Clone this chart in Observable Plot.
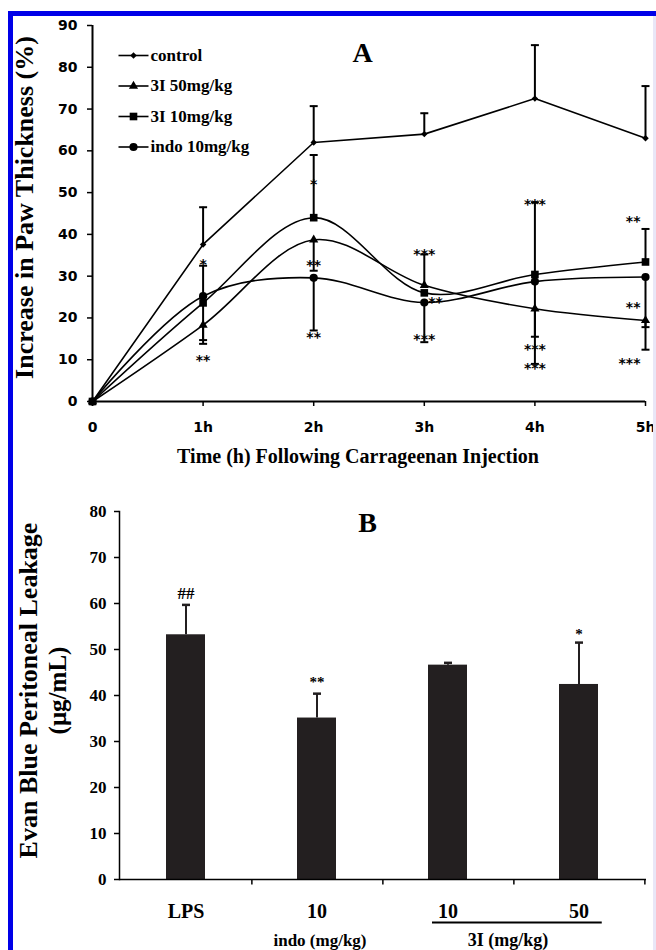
<!DOCTYPE html>
<html><head><meta charset="utf-8">
<script src="https://cdn.jsdelivr.net/npm/d3@7"></script>
<script src="https://cdn.jsdelivr.net/npm/@observablehq/plot@0.6"></script>
<style>
html,body{margin:0;padding:0;background:#fff;}
#page{position:relative;width:656px;height:950px;overflow:hidden;background:#fff;}
#a{position:absolute;left:0;top:0;}
#b{position:absolute;left:0;top:490px;}
.bt{position:absolute;left:8px;top:11px;width:648px;height:5px;background:#0000e8;}
.bl{position:absolute;left:8px;top:11px;width:5px;height:939px;background:#0000e8;}
.br{position:absolute;right:0;top:16px;width:3px;height:934px;background:#e9e7f7;}
</style></head><body>
<div id="page"><div id="a"></div><div id="b"></div><div class="bt"></div><div class="bl"></div><div class="br"></div></div>
<script>
// ---------- Panel A data ----------
const times = [0, 1, 2, 3, 4, 5];
const timeLabels = ["0", "1h", "2h", "3h", "4h", "5h"];
const yTicksA = [0, 10, 20, 30, 40, 50, 60, 70, 80, 90];
const seriesNames = ["control", "3I 50mg/kg", "3I 10mg/kg", "indo 10mg/kg"];
const control = [0, 37.6, 62.0, 64.0, 72.5, 63.0];
const i50 = [0, 18.3, 38.7, 27.8, 22.2, 19.4];
const i10 = [0, 23.6, 44.0, 26.0, 30.4, 33.4];
const indo = [0, 25.2, 29.6, 23.7, 28.7, 29.8];
// error-bar end points (each bar runs from the mean to the end value)
const controlEnds = [[], [46.5], [70.7], [69.0], [85.3], [75.5]];
const i50Ends = [[], [13.8], [31.3], [35.2], [15.5], [17.8]];
const i10Ends = [[], [14.7, 32.5], [59.0], [], [47.7], [41.3]];
const indoEnds = [[], [], [17.0], [14.2], [9.0], [12.4]];
// significance marks
const starsA = [
  {t: 1, y: 33.8, s: "*"}, {t: 1, y: 10.7, s: "**"},
  {t: 2, y: 52.9, s: "*"}, {t: 2, y: 33.5, s: "**"}, {t: 2, y: 16.3, s: "**"},
  {t: 3, y: 36.1, s: "***"}, {t: 3, y: 15.7, s: "***"},
  {t: 4, y: 48.0, s: "***"}, {t: 4, y: 13.4, s: "***"}, {t: 4, y: 8.8, s: "***"}
];
const starsARight = [{t: 3, y: 24.6, s: "**"}];
const starsALeft = [{t: 5, y: 44.0, s: "**"}, {t: 5, y: 23.5, s: "**"}, {t: 5, y: 10.0, s: "***"}];

// ---------- Panel B data ----------
const groupsB = ["LPS", "indo 10", "3I 10", "3I 50"];
const groupLabelsB = ["LPS", "10", "10", "50"];
const yTicksB = [0, 10, 20, 30, 40, 50, 60, 70, 80];
const leakage = [53.2, 35.1, 46.6, 42.4];
const leakageErrEnd = [59.7, 40.4, 47.1, 51.5];
const starsB = [{g: "LPS", y: 62.2, s: "##"}, {g: "indo 10", y: 43.3, s: "**"}, {g: "3I 50", y: 53.8, s: "*"}];

// ---------- helpers ----------
const serif = "Liberation Serif";
const sans = "DejaVu Sans";
const hcap = {draw(ctx) { ctx.moveTo(-4, 0); ctx.lineTo(4, 0); }};
const legendLine = {draw(ctx) { ctx.moveTo(-15, 0); ctx.lineTo(15, 0); }};
const vtick = {draw(ctx) { ctx.moveTo(0, 0); ctx.lineTo(0, 5); }};

const seriesDefs = [
  {name: seriesNames[0], values: control, ends: controlEnds, symbol: "diamond2", r: 2.9, curve: "linear"},
  {name: seriesNames[1], values: i50, ends: i50Ends, symbol: "triangle", r: 3.4, curve: "catmull-rom"},
  {name: seriesNames[3], values: indo, ends: indoEnds, symbol: "circle", r: 4.1, curve: "catmull-rom"},
  {name: seriesNames[2], values: i10, ends: i10Ends, symbol: "square", r: 4.3, curve: "catmull-rom"}
];
const legendOrder = [0, 1, 3, 2];

const rowsA = seriesDefs.map(s => times.map((t, i) => ({series: s.name, t, v: s.values[i]})));
const errA = seriesDefs.flatMap(s => times.flatMap((t, i) => s.ends[i].map(e => ({t, y1: s.values[i], y2: e}))));

const marksA = [
  Plot.ruleY([0], {strokeWidth: 2}),
  Plot.ruleX([0], {strokeWidth: 2}),
  Plot.axisY({ticks: yTicksA, tickSize: 5, tickPadding: 10, fontSize: 14, fontFamily: sans, fontWeight: "bold", strokeWidth: 1.5, label: null}),
  Plot.axisX({ticks: times, tickFormat: d => timeLabels[times.indexOf(d)], tickSize: 5, tickPadding: 16, fontSize: 14, fontFamily: sans, fontWeight: "bold", strokeWidth: 1.5, label: null}),
  ...seriesDefs.map((s, k) => Plot.line(rowsA[k], {x: "t", y: "v", curve: s.curve, stroke: "black", strokeWidth: 1.6})),
  Plot.ruleX(errA, {x: "t", y1: "y1", y2: "y2", stroke: "black", strokeWidth: 2}),
  Plot.dot(errA, {x: "t", y: "y2", symbol: hcap, stroke: "black", strokeWidth: 2}),
  ...seriesDefs.map((s, k) => Plot.dot(rowsA[k], {x: "t", y: "v", symbol: s.symbol, r: s.r, fill: "black", stroke: "none"})),
  Plot.text(starsA, {x: "t", y: "y", text: "s", fontSize: 14, fontFamily: sans, fontWeight: "bold", lineAnchor: "middle", dy: 4}),
  Plot.text(starsARight, {x: "t", y: "y", text: "s", fontSize: 14, fontFamily: sans, fontWeight: "bold", lineAnchor: "middle", textAnchor: "start", dx: 4, dy: 4}),
  Plot.text(starsALeft, {x: "t", y: "y", text: "s", fontSize: 14, fontFamily: sans, fontWeight: "bold", lineAnchor: "middle", textAnchor: "end", dx: -5, dy: 4}),
  Plot.text(["A"], {frameAnchor: "top-left", dx: 270, dy: 28, text: d => d, fontSize: 28, fontFamily: serif, fontWeight: "bold", lineAnchor: "middle", textAnchor: "middle"}),
  Plot.text(["Time (h) Following Carrageenan Injection"], {frameAnchor: "bottom", dx: -11, dy: 55, text: d => d, fontSize: 20, fontFamily: serif, fontWeight: "bold", lineAnchor: "middle", textAnchor: "middle"}),
  Plot.text(["Increase in Paw Thickness (%)"], {frameAnchor: "left", dx: -68, dy: -6, rotate: -90, text: d => d, fontSize: 26, fontFamily: serif, fontWeight: "bold", lineAnchor: "middle", textAnchor: "middle"})
];
legendOrder.forEach((k, i) => {
  const s = seriesDefs[k];
  const dy = 30 + i * 30.5;
  marksA.push(
    Plot.dot([s.name], {frameAnchor: "top-left", dx: 41, dy, symbol: legendLine, stroke: "black", strokeWidth: 1.6}),
    Plot.dot([s.name], {frameAnchor: "top-left", dx: 41, dy, symbol: s.symbol, r: s.r, fill: "black", stroke: "none"}),
    Plot.text([s.name], {frameAnchor: "top-left", dx: 58, dy, text: d => d, textAnchor: "start", lineAnchor: "middle", fontSize: 17, fontFamily: serif, fontWeight: "bold"})
  );
});

const chartA = Plot.plot({
  width: 656, height: 480,
  marginTop: 25, marginBottom: 79, marginLeft: 92, marginRight: 11,
  x: {domain: [0, 5]},
  y: {domain: [0, 90]},
  style: {background: "transparent", color: "black", fontFamily: serif},
  marks: marksA
});
document.getElementById("a").appendChild(chartA);

// ---------- Panel B ----------
const widthB = 656, mlB = 119, mrB = 10;
const stepB = (widthB - mlB - mrB) / groupsB.length;
const rowsB = groupsB.map((g, i) => ({g, v: leakage[i], e: leakageErrEnd[i], lab: groupLabelsB[i]}));
const groupLine = {draw(ctx) { ctx.moveTo(-16, 0); ctx.lineTo(stepB + 22, 0); }};

const chartB = Plot.plot({
  width: widthB, height: 460,
  marginTop: 21, marginBottom: 71, marginLeft: mlB, marginRight: mrB,
  x: {domain: groupsB, paddingInner: 0.7, paddingOuter: 0.35},
  y: {domain: [0, 80]},
  style: {background: "transparent", color: "black", fontFamily: serif},
  marks: [
    Plot.barY(rowsB, {x: "g", y: "v", fill: "#231f20"}),
    Plot.ruleX(rowsB, {x: "g", y1: "v", y2: "e", stroke: "#231f20", strokeWidth: 2}),
    Plot.dot(rowsB, {x: "g", y: "e", symbol: hcap, stroke: "#231f20", strokeWidth: 2.5}),
    Plot.ruleY([0], {strokeWidth: 1.5}),
    Plot.frame({anchor: "left", strokeWidth: 1.5}),
    Plot.dot(rowsB, {x: "g", y: () => 0, dx: stepB / 2, symbol: vtick, stroke: "black", strokeWidth: 1.5}),
    Plot.axisY({ticks: yTicksB, tickSize: 5, tickPadding: 8, fontSize: 17, fontFamily: serif, fontWeight: "bold", strokeWidth: 1.5, label: null}),
    Plot.axisX({tickSize: 0, tickPadding: 24, tickFormat: g => groupLabelsB[groupsB.indexOf(g)], fontSize: 20, fontFamily: serif, fontWeight: "bold", label: null}),
    Plot.text(starsB.slice(0, 1), {x: "g", y: "y", text: "s", fontSize: 17, fontFamily: serif, fontWeight: "bold", lineAnchor: "middle"}),
    Plot.text(starsB.slice(1), {x: "g", y: "y", text: "s", fontSize: 15, fontFamily: serif, fontWeight: "bold", lineAnchor: "middle", dy: 2}),
    Plot.text(["B"], {frameAnchor: "top-left", dx: 248, dy: 12, text: d => d, fontSize: 28, fontFamily: serif, fontWeight: "bold", lineAnchor: "middle", textAnchor: "middle"}),
    Plot.text(["indo (mg/kg)"], {x: () => groupsB[1], frameAnchor: "bottom", dx: 3, dy: 61, text: d => d, fontSize: 17, fontFamily: serif, fontWeight: "bold", lineAnchor: "middle", textAnchor: "middle"}),
    Plot.text(["3I (mg/kg)"], {x: () => groupsB[2], frameAnchor: "bottom", dx: 60, dy: 61, text: d => d, fontSize: 18, fontFamily: serif, fontWeight: "bold", lineAnchor: "middle", textAnchor: "middle"}),
    Plot.dot(["3I"], {x: () => groupsB[2], y: () => 0, dy: 43, symbol: groupLine, stroke: "black", strokeWidth: 2}),
    Plot.text(["Evan Blue Peritoneal Leakage"], {frameAnchor: "left", dx: -91, dy: -5, rotate: -90, text: d => d, fontSize: 26, fontFamily: serif, fontWeight: "bold", lineAnchor: "middle", textAnchor: "middle"}),
    Plot.text(["(μg/mL)"], {frameAnchor: "left", dx: -62, dy: -5, rotate: -90, text: d => d, fontSize: 25, fontFamily: serif, fontWeight: "bold", lineAnchor: "middle", textAnchor: "middle"})
  ]
});
document.getElementById("b").appendChild(chartB);
</script>
</body></html>
